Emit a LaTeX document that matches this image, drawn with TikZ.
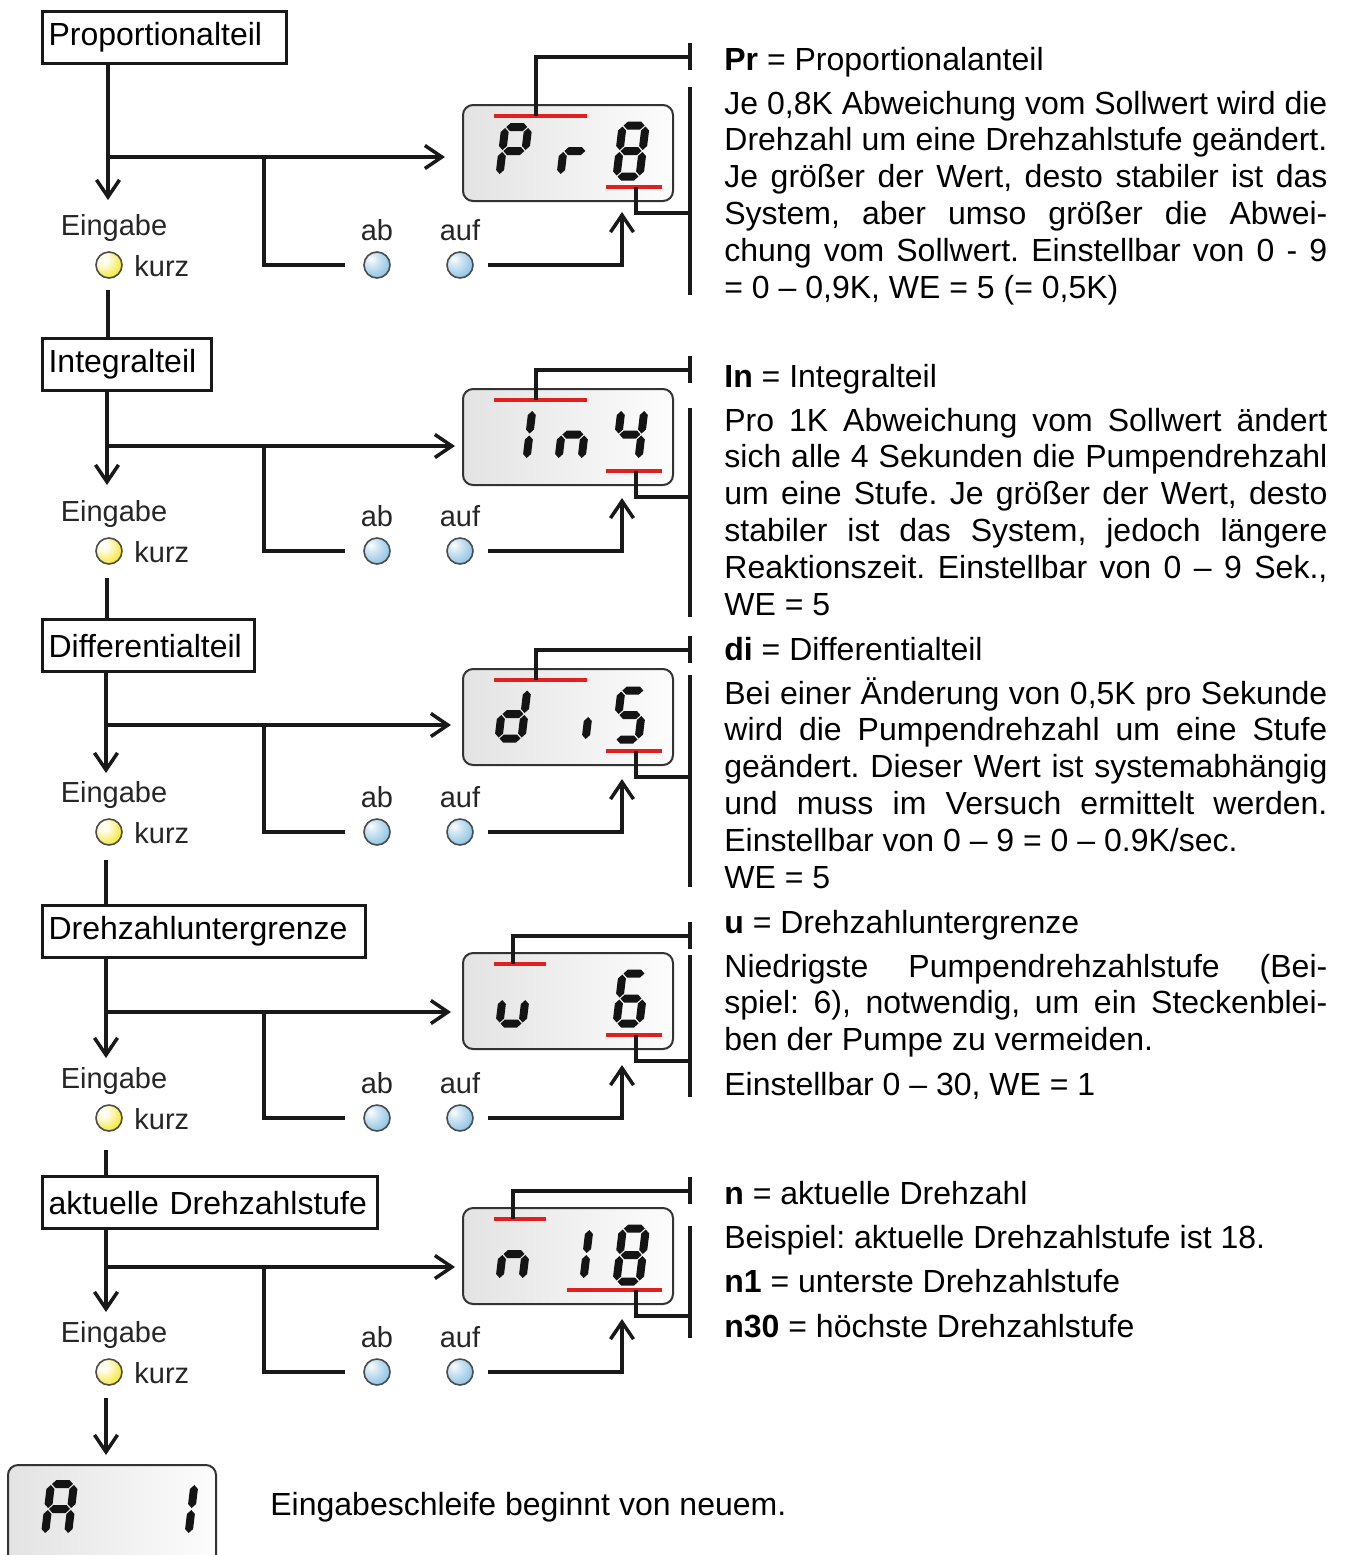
\documentclass[tikz,border=0pt]{standalone}
\usepackage{fontspec}
\setmainfont{Liberation Sans}
\usetikzlibrary{arrows.meta}
\definecolor{redbar}{HTML}{E0201E}
\definecolor{bluelite}{HTML}{D6EAF6}
\definecolor{bluemain}{HTML}{8CC2E4}
\definecolor{bluedark}{HTML}{5C94BA}
\definecolor{ylite}{HTML}{FFFDE6}
\definecolor{ymain}{HTML}{F4E62C}
\definecolor{ydark}{HTML}{C4B20E}
\pgfdeclareradialshading{ballblue}{\pgfpoint{-12bp}{12bp}}{color(0bp)=(white); color(10bp)=(bluelite); color(34bp)=(bluemain); color(50bp)=(bluedark); color(80bp)=(bluedark)}
\pgfdeclareradialshading{ballyellow}{\pgfpoint{-12bp}{12bp}}{color(0bp)=(white); color(10bp)=(ylite); color(34bp)=(ymain); color(50bp)=(ydark); color(80bp)=(ydark)}
\frenchspacing
% seven segment helpers
\newcommand\hseg[3]{\fill[segc] ({#1+1},{#3}) -- ({#1+5},{#3-4}) -- ({#2-5},{#3-4}) -- ({#2-1},{#3}) -- ({#2-5},{#3+4}) -- ({#1+5},{#3+4}) -- cycle;}
\newcommand\vseg[3]{\fill[segc] ({#1},{#2+1}) -- ({#1+4},{#2+5}) -- ({#1+4},{#3-5}) -- ({#1},{#3-1}) -- ({#1-4},{#3-5}) -- ({#1-4},{#2+5}) -- cycle;}
\newcommand\sgmA{\hseg{0}{23}{-\dH}}
\newcommand\sgmB{\vseg{23}{-\dH}{-\dH/2}}
\newcommand\sgmC{\vseg{23}{-\dH/2}{0}}
\newcommand\sgmD{\hseg{0}{23}{0}}
\newcommand\sgmE{\vseg{0}{-\dH/2}{0}}
\newcommand\sgmF{\vseg{0}{-\dH}{-\dH/2}}
\newcommand\sgmG{\hseg{0}{23}{-\dH/2}}
\newcommand\ssd[4]{%
  \begin{scope}[shift={(#1,#2)}, xslant=0.12]
    \def\dH{#3}%
    \foreach \s in {#4}{\csname sgm\s\endcsname}
  \end{scope}}
% left flow block: id, boxY, text, textwidth, vx, tipY, hy, htipX, btnY
\newcommand\flow[9]{%
  \node[hbox, text width=#4] (b#1) at (41,#2) {#3};
  \coordinate (t#1) at (#5,#6);
  \draw[ln, arr] (b#1.south -| t#1) -- (t#1);
  \node[lbl] (e#1) at (114,{#9-37}) {Eingabe};
  \node[ybtn] (y#1) at (109,#9) {};
  \node[lbl, anchor=west] (k#1) at (134,{#9+1}) {kurz};
  \coordinate (h#1) at (#8,#7);
  \draw[ln, arr] (t#1 |- h#1) -- (h#1);
  \node[bbtn] (ab#1) at (377,#9) {};
  \node[bbtn] (au#1) at (460,#9) {};
  \node[lbl] (lab#1) at (377,{#9-35}) {ab};
  \node[lbl] (lau#1) at (460,{#9-35}) {auf};
  \coordinate (br#1) at (264,#7);
  \draw[ln] (br#1) |- ([xshift=-9pt]ab#1.west);
  \coordinate (u#1) at (622,{#9-53});
  \draw[ln, arr] ([xshift=7pt]au#1.east) -| (u#1);
}
% display: id, T, L, longTop, longBot, topbarEnd, leaderX, botbarStart
\newcommand\dispbox[8]{%
  \node[disp] (d#1) at (568,{#2+48}) {};
  \draw[rbar] (494,{#2+11}) -- (#6,{#2+11});
  \draw[rbar] (#8,{#2+82}) -- (662,{#2+82});
  \coordinate (lt#1) at (690,#3);
  \draw[ln] (#7,{#2+11}) |- (lt#1);
  \draw[ln] ([yshift=7pt]lt#1) -- ([yshift=-6.5pt]lt#1);
  \draw[ln] (690,#4) -- (690,#5);
  \coordinate (lb#1) at (690,{#2+108});
  \draw[ln] (636,{#2+82}) |- (lb#1);
}
\begin{document}
\begin{tikzpicture}[x=0.5pt,y=-0.5pt,
  ln/.style={line width=1.75pt, black!90},
  arr/.style={-{Straight Barb[length=8.5pt,width=11.5pt]}},
  hbox/.style={draw, black!90, text=black, line width=1.6pt, anchor=north west, minimum height=26pt, inner xsep=3pt, inner ysep=0pt, align=left, font=\fontsize{16}{19}\selectfont},
  lbl/.style={font=\fontsize{14.5}{17}\selectfont, inner sep=0pt, text=black!85},
  txt/.style={font=\fontsize{16}{18.4}\selectfont, anchor=base west, inner sep=0pt},
  para/.style={txt, text width=301.5pt, align=justify},
  bbtn/.style={circle, draw=black!70, line width=0.8pt, minimum size=13pt, inner sep=0pt, shading=ballblue},
  ybtn/.style={circle, draw=black!70, line width=0.8pt, minimum size=13pt, inner sep=0pt, shading=ballyellow},
  disp/.style={draw=black!80, line width=1pt, rounded corners=5pt, minimum width=105pt, minimum height=48pt, inner sep=0pt, left color=black!11, right color=black!1},
  rbar/.style={line width=2pt, redbar},
  segc/.style={black!92}]
\useasboundingbox (0,0) rectangle (1346,1555);

% ---------- left flow ----------
\flow{1}{10}{Proportionalteil}{116pt}{108}{200}{157}{445}{265}
\flow{2}{337}{Integralteil}{78.5pt}{107}{485}{446}{455}{551}
\flow{3}{618}{Differentialteil}{100pt}{106}{773}{725}{451}{832}
\flow{4}{904}{Drehzahluntergrenze}{155.5pt}{106}{1058}{1012}{451}{1118}
\flow{5}{1175}{aktuelle Drehzahlstufe}{161.5pt}{106}{1312}{1267}{455}{1372}

\draw[ln] (108,290) -- (b2.north -| t1);
\draw[ln] (107,578) -- (b3.north -| t2);
\draw[ln] (106,860) -- (b4.north -| t3);
\draw[ln] (106,1150) -- (b5.north -| t4);

% ---------- displays ----------
\dispbox{1}{105}{57}{87}{295}{587}{536}{606}
\ssd{499.5}{175}{48}{A,B,E,F,G}
\ssd{560.5}{175}{48}{E,G}
\ssd{616.5}{176.5}{51}{A,B,C,D,E,F,G}

\dispbox{2}{389}{370}{408}{617}{587}{536}{606}
\ssd{526.5}{459}{49}{E,F}
\ssd{558.5}{459}{49}{C,E,G}
\ssd{615.5}{459}{49}{B,C,F,G}

\dispbox{3}{669}{650}{675}{887}{587}{536}{606}
\ssd{498.5}{738.5}{49}{B,C,D,E,G}
\ssd{585.5}{740}{48}{E}
\ssd{615.5}{739.5}{49}{A,C,D,F,G}

\dispbox{4}{953}{936}{955}{1097}{546}{513}{606}
\ssd{499.5}{1023.5}{49}{C,D,E}
\ssd{616.5}{1023.5}{50}{A,C,D,E,F,G}

\dispbox{5}{1208}{1191}{1226}{1338}{546}{513}{567}
\ssd{499.5}{1279}{50}{C,E,G}
\ssd{583.5}{1279}{50}{E,F}
\ssd{616.5}{1281.5}{53}{A,B,C,D,E,F,G}

% final display
\node[disp, minimum width=104pt, minimum height=55pt] (d6) at (112,1520) {};
\ssd{45}{1534}{50}{A,B,C,E,F,G}
\ssd{188.5}{1534}{50}{E,F}
\coordinate (t6) at (106,1455);
\draw[ln, arr] (106,1398) -- (t6);
\node[txt] (fin) at (270,1515) {Eingabeschleife beginnt von neuem.};

% ---------- right texts ----------
\node[txt] (h1txt) at (724,70) {\textbf{Pr} = Proportionalanteil};
\node[para] (p1txt) at (724,114) {\hyphenpenalty=10000 Je 0,8K Abweichung vom Sollwert wird die\linebreak Drehzahl um eine Drehzahlstufe geändert.\linebreak Je größer der Wert, desto stabiler ist das\linebreak System, aber umso größer die Abwei-\linebreak chung vom Sollwert. Einstellbar von 0 - 9\linebreak = 0 – 0,9K, WE = 5 (= 0,5K)};

\node[txt] (h2txt) at (724,387) {\textbf{In} = Integralteil};
\node[para] (p2txt) at (724,431) {\hyphenpenalty=10000 Pro 1K Abweichung vom Sollwert ändert\linebreak sich alle 4 Sekunden die Pumpendrehzahl\linebreak um eine Stufe. Je größer der Wert, desto\linebreak stabiler ist das System, jedoch längere\linebreak Reaktionszeit. Einstellbar von 0 – 9 Sek.,\linebreak WE = 5};

\node[txt] (h3txt) at (724,660) {\textbf{di} = Differentialteil};
\node[para] (p3txt) at (724,704) {\hyphenpenalty=10000 Bei einer Änderung von 0,5K pro Sekunde\linebreak wird die Pumpendrehzahl um eine Stufe\linebreak geändert. Dieser Wert ist systemabhängig\linebreak und muss im Versuch ermittelt werden.\linebreak Einstellbar von 0 – 9 = 0 – 0.9K/sec.};
\node[txt] (q3txt) at (724,888) {WE = 5};

\node[txt] (h4txt) at (724,933) {\textbf{u} = Drehzahluntergrenze};
\node[para] (p4txt) at (724,977) {\hyphenpenalty=10000 Niedrigste Pumpendrehzahlstufe (Bei-\linebreak spiel: 6), notwendig, um ein Steckenblei-\linebreak ben der Pumpe zu vermeiden.};
\node[txt] (q4txt) at (724,1095) {Einstellbar 0 – 30, WE = 1};

\node[txt] (h5txt) at (724,1204) {\textbf{n} = aktuelle Drehzahl};
\node[txt] (p5txt) at (724,1248) {Beispiel: aktuelle Drehzahlstufe ist 18.};
\node[txt] (q5txt) at (724,1292) {\textbf{n1} = unterste Drehzahlstufe};
\node[txt] (r5txt) at (724,1337) {\textbf{n30} = höchste Drehzahlstufe};
\end{tikzpicture}
\end{document}
